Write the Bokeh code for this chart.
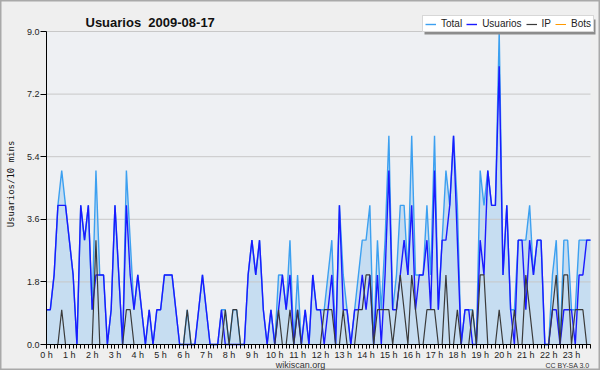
from bokeh.plotting import figure
from bokeh.models import (Range1d, FixedTicker, Label, Legend, LegendItem,
                          ColumnDataSource, PrintfTickFormatter, BoxAnnotation)
from bokeh.embed import file_html
from bokeh.resources import INLINE

# ---- data: one value per 10-minute slot (144 slots) ----
usuarios = [1, 1, 2, 4, 4, 4, 3, 2, 0, 4,
            3, 4, 1, 2, 2, 2, 0, 1, 4, 2,
            0, 4, 2, 1, 2, 1, 0, 1, 0, 1,
            1, 2, 2, 2, 1, 0, 0, 0, 0, 0,
            1, 2, 1, 0, 0, 0, 1, 0, 0, 0,
            0, 0, 0, 2, 3, 2, 3, 1, 0, 1,
            0, 1, 2, 1, 2, 0, 1, 0, 1, 0,
            2, 1, 1, 0, 1, 2, 0, 4, 1, 1,
            0, 1, 1, 2, 1, 2, 0, 2, 0, 2,
            5, 1, 1, 2, 3, 2, 4, 1, 2, 2,
            3, 1, 5, 1, 3, 3, 4, 6, 3, 0,
            1, 1, 0, 0, 3, 2, 5, 4, 4, 8,
            2, 4, 1, 0, 3, 3, 1, 3, 2, 3,
            3, 0, 0, 1, 1, 0, 1, 1, 1, 0,
            2, 2, 3, 3]

ip = [0, 0, 0, 0, 1, 0, 0, 0, 0, 0,
      0, 0, 0, 3, 0, 0, 0, 0, 0, 0,
      0, 1, 1, 0, 0, 0, 0, 0, 0, 0,
      0, 0, 0, 0, 0, 0, 0, 1, 0, 0,
      0, 0, 0, 0, 0, 0, 0, 1, 0, 1,
      1, 0, 0, 0, 0, 0, 0, 0, 0, 0,
      0, 1, 0, 0, 1, 0, 1, 0, 0, 0,
      0, 0, 0, 1, 1, 1, 0, 0, 1, 0,
      0, 0, 1, 1, 2, 2, 0, 1, 1, 1,
      1, 0, 1, 2, 1, 0, 2, 1, 0, 0,
      1, 1, 1, 0, 0, 2, 0, 0, 1, 0,
      0, 0, 1, 0, 2, 2, 0, 0, 0, 1,
      0, 0, 0, 1, 0, 0, 2, 1, 0, 0,
      0, 0, 0, 1, 2, 0, 2, 2, 0, 1,
      1, 1, 0, 0]

total = [1, 1, 2, 4, 5, 4, 3, 2, 0, 4,
         3, 4, 1, 5, 2, 2, 0, 1, 4, 2,
         0, 5, 3, 1, 2, 1, 0, 1, 0, 1,
         1, 2, 2, 2, 1, 0, 0, 1, 0, 0,
         1, 2, 1, 0, 0, 0, 1, 1, 0, 1,
         1, 0, 0, 2, 3, 2, 3, 1, 0, 1,
         0, 2, 2, 1, 3, 0, 2, 0, 1, 0,
         2, 1, 1, 1, 2, 3, 0, 4, 2, 1,
         0, 1, 2, 3, 3, 4, 0, 3, 1, 3,
         6, 1, 2, 4, 4, 2, 6, 2, 2, 2,
         4, 2, 6, 1, 3, 5, 4, 6, 4, 0,
         1, 1, 1, 0, 5, 4, 5, 4, 4, 9,
         2, 4, 1, 1, 3, 3, 3, 4, 2, 3,
         3, 0, 0, 2, 3, 0, 3, 3, 1, 1,
         3, 3, 3, 3]

bots = [0, 0, 0, 0, 0, 0, 0, 0, 0, 0,
        0, 0, 0, 0, 0, 0, 0, 0, 0, 0,
        0, 0, 0, 0, 0, 0, 0, 0, 0, 0,
        0, 0, 0, 0, 0, 0, 0, 0, 0, 0,
        0, 0, 0, 0, 0, 0, 0, 0, 0, 0,
        0, 0, 0, 0, 0, 0, 0, 0, 0, 0,
        0, 0, 0, 0, 0, 0, 0, 0, 0, 0,
        0, 0, 0, 0, 0, 0, 0, 0, 0, 0,
        0, 0, 0, 0, 0, 0, 0, 0, 0, 0,
        0, 0, 0, 0, 0, 0, 0, 0, 0, 0,
        0, 0, 0, 0, 0, 0, 0, 0, 0, 0,
        0, 0, 0, 0, 0, 0, 0, 0, 0, 0,
        0, 0, 0, 0, 0, 0, 0, 0, 0, 0,
        0, 0, 0, 0, 0, 0, 0, 0, 0, 0,
        0, 0, 0, 0]

hour_labels = ["0 h", "1 h", "2 h", "3 h", "4 h", "5 h", "6 h", "7 h",
               "8 h", "9 h", "10 h", "11 h", "12 h", "13 h", "14 h", "15 h",
               "16 h", "17 h", "18 h", "19 h", "20 h", "21 h", "22 h", "23 h"]

y_ticks = [0.0, 1.8, 3.6, 5.4, 7.2, 9.0]

series_names = ["Total", "Usuarios", "IP", "Bots"]
title_text = "Usuarios\u00a0 2009-08-17"
y_title = "Usuarios/10 mins"
source_text = "wikiscan.org"
license_text = "CC BY-SA 3.0"

# ---- layout (pixels) ----
W, H = 600, 370
PLOT_L, PLOT_R, PLOT_T, PLOT_B = 46, 590, 31, 344   # data area inside the canvas
n = len(total)
x_lo, x_hi = 0, n - 1
y_lo, y_hi = 0.0, 9.0
sx = (PLOT_R - PLOT_L) / (x_hi - x_lo)
sy = (PLOT_B - PLOT_T) / (y_hi - y_lo)

slots = list(range(n))
hour_ticks = [6 * h for h in range(len(hour_labels))]

src = ColumnDataSource(dict(x=slots, total=total, usuarios=usuarios,
                            ip=ip, bots=bots))

SANS = "Liberation Sans"
OUTER = "#efefef"
INNER = "#eef0f3"

p = figure(width=W, height=H, title=None,
           x_range=Range1d(x_lo - PLOT_L / sx, x_hi + (W - PLOT_R) / sx),
           y_range=Range1d(y_lo - (H - PLOT_B) / sy, y_hi + PLOT_T / sy),
           output_backend="svg", toolbar_location=None,
           min_border=0, min_border_left=0, min_border_right=0,
           min_border_top=0, min_border_bottom=0,
           background_fill_color=OUTER, border_fill_color=OUTER,
           outline_line_color="#a9a9a9", outline_line_width=2)

# plot-area background
p.add_layout(BoxAnnotation(left=x_lo, right=x_hi, bottom=y_lo, top=y_hi,
                           fill_color=INNER, fill_alpha=1.0, line_color=None,
                           level="underlay"))

p.varea(x="x", y1=0, y2="total", source=src, fill_color="#c6ddf1")

# horizontal grid lines (only over the data area)
p.segment(x0=x_lo, x1=x_hi, y0=y_ticks, y1=y_ticks,
          line_color="#c8c8c8", line_width=1)

r_total = p.line("x", "total", source=src, line_color="#3ca0f0", line_width=1.4)
r_u = p.line("x", "usuarios", source=src, line_color="#1a1aff", line_width=1.4)
r_ip = p.line("x", "ip", source=src, line_color="#3a3a3a", line_width=1.2)
r_bots = p.line("x", "bots", source=src, line_color="#ff9900", line_width=1.0)

p.xgrid.visible = False
p.ygrid.visible = False

# axes drawn at the data origin
xa = p.xaxis[0]
xa.fixed_location = 0
xa.bounds = (x_lo, x_hi)
xa.ticker = FixedTicker(ticks=hour_ticks, minor_ticks=slots)
xa.major_label_overrides = {t: lab for t, lab in zip(hour_ticks, hour_labels)}
xa.major_tick_out = 4
xa.major_tick_in = 0
xa.minor_tick_out = 4
xa.minor_tick_in = 0
xa.major_label_standoff = 1
xa.major_label_text_font = SANS
xa.major_label_text_font_size = "9px"
xa.major_label_text_color = "#222222"
xa.axis_line_color = "black"

ya = p.yaxis[0]
ya.fixed_location = 0
ya.bounds = (y_lo, y_hi)
ya.ticker = FixedTicker(ticks=y_ticks)
ya.formatter = PrintfTickFormatter(format="%.1f")
ya.major_tick_out = 6
ya.major_tick_in = 0
ya.minor_tick_out = 0
ya.minor_tick_in = 0
ya.major_label_standoff = 1
ya.major_label_text_font = SANS
ya.major_label_text_font_size = "9px"
ya.major_label_text_color = "#222222"
ya.axis_line_color = "black"

# legend shadow + legend (bottom-left corner given from the canvas' bottom-left)
p.add_layout(BoxAnnotation(left=424, right=595, bottom=H - 34, top=H - 19,
                           left_units="screen", right_units="screen",
                           bottom_units="screen", top_units="screen",
                           fill_color="#8c8c8c", fill_alpha=1.0,
                           line_color=None, level="annotation"))
legend = Legend(items=[LegendItem(label=series_names[0], renderers=[r_total]),
                       LegendItem(label=series_names[1], renderers=[r_u]),
                       LegendItem(label=series_names[2], renderers=[r_ip]),
                       LegendItem(label=series_names[3], renderers=[r_bots])],
                orientation="horizontal", location=(422, H - 32),
                glyph_width=11, glyph_height=10, label_height=10, label_width=5,
                label_standoff=5, spacing=4, padding=2, margin=0,
                label_text_font=SANS, label_text_font_size="10px",
                label_text_color="#222222",
                background_fill_color="white", background_fill_alpha=1.0,
                border_line_color="#b0b0b0", border_line_width=1)
p.add_layout(legend)

# texts (screen units: x from left, y up from bottom of canvas)
p.add_layout(Label(x=85, y=H - 22, x_units="screen", y_units="screen",
                   text=title_text, text_font=SANS, text_font_size="13px",
                   text_font_style="bold", text_color="#111111",
                   text_align="left", text_baseline="alphabetic"))
p.add_layout(Label(x=10.5, y=H - 183.5, x_units="screen", y_units="screen",
                   text=y_title, angle=1.5707963, text_font="DejaVu Sans Mono",
                   text_font_size="9px", text_color="#111111",
                   text_align="center", text_baseline="middle"))
p.add_layout(Label(x=300, y=H - 364, x_units="screen", y_units="screen",
                   text=source_text, text_font=SANS, text_font_size="9px",
                   text_color="#333333", text_align="center",
                   text_baseline="alphabetic"))
p.add_layout(Label(x=589, y=H - 365, x_units="screen", y_units="screen",
                   text=license_text, text_font=SANS, text_font_size="7px",
                   text_color="#333333", text_align="right",
                   text_baseline="alphabetic"))

open("out.html", "w").write(file_html(p, INLINE))
